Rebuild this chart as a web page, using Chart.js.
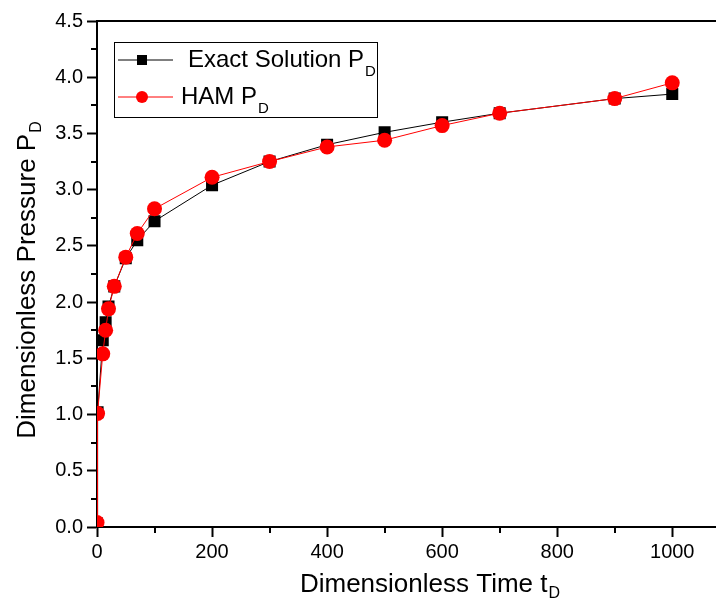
<!DOCTYPE html>
<html>
<head>
<meta charset="utf-8">
<script src="https://cdn.jsdelivr.net/npm/chart.js@4.4.1/dist/chart.umd.min.js"></script>
<style>
  html, body { margin: 0; padding: 0; background: #fff; }
  #wrap { width: 716px; height: 607px; overflow: hidden; position: relative; }
  canvas { display: block; }
</style>
</head>
<body>
<div id="wrap"><canvas id="chart" width="740" height="607"></canvas></div>
<script>
// dimensionless time
const tD = [0, 1, 10, 15, 20, 30, 50, 70, 100, 200, 300, 400, 500, 600, 700, 900, 1000];
// exact solution P_D
const exactPD = [0.03, 1.02, 1.66, 1.82, 1.96, 2.14, 2.39, 2.55, 2.72, 3.04, 3.25, 3.40, 3.51, 3.60, 3.68, 3.81, 3.85];
// HAM P_D
const hamPD = [0.04, 1.01, 1.54, 1.75, 1.94, 2.14, 2.40, 2.61, 2.83, 3.11, 3.25, 3.38, 3.44, 3.57, 3.68, 3.81, 3.95];

const seriesNames = ['Exact Solution P', 'HAM P'];
const subD = 'D';
const xTitle = 'Dimensionless Time t';
const yTitle = 'Dimensionless Pressure P';

const FONT = '"Liberation Sans", Arial, sans-serif';

const toXY = (xs, ys) => xs.map((x, i) => ({ x: x, y: ys[i] }));

// draw "main" + subscript at current origin, left aligned on baseline
function subText(ctx, main, sub, x, y, size, subSize, subDrop) {
    ctx.font = size + 'px ' + FONT;
    ctx.textAlign = 'left';
    ctx.textBaseline = 'alphabetic';
    ctx.fillText(main, x, y);
    const w = ctx.measureText(main).width;
    ctx.font = subSize + 'px ' + FONT;
    ctx.fillText(sub, x + w + 1, y + subDrop);
    return w + 1 + ctx.measureText(sub).width;
}

function textWidth(ctx, main, sub, size, subSize) {
    ctx.font = size + 'px ' + FONT;
    const w = ctx.measureText(main).width;
    ctx.font = subSize + 'px ' + FONT;
    return w + 1 + ctx.measureText(sub).width;
}

const decorPlugin = {
    id: 'decor',
    afterDraw(chart) {
        const ctx = chart.ctx;
        const area = chart.chartArea;
        const xs = chart.scales.x, ys = chart.scales.y;
        ctx.save();
        ctx.strokeStyle = '#000';
        ctx.fillStyle = '#000';

        // top frame
        ctx.lineWidth = 2;
        ctx.beginPath();
        ctx.moveTo(area.left - 1, area.top);
        ctx.lineTo(chart.width, area.top);
        ctx.stroke();

        // minor ticks
        ctx.lineWidth = 2;
        ctx.beginPath();
        for (let v = 100; v <= 1100; v += 200) {
            const px = Math.round(xs.getPixelForValue(v));
            if (px > chart.width) break;
            ctx.moveTo(px, area.bottom);
            ctx.lineTo(px, area.bottom + 6);
        }
        for (let v = 0.25; v < 4.5; v += 0.5) {
            const py = Math.round(ys.getPixelForValue(v));
            ctx.moveTo(area.left, py);
            ctx.lineTo(area.left - 6, py);
        }
        ctx.stroke();

        // axis titles
        const xw = textWidth(ctx, xTitle, subD, 26, 16);
        subText(ctx, xTitle, subD, 430 - xw / 2, 592, 26, 16, 6);

        ctx.save();
        ctx.translate(35, 280);
        ctx.rotate(-Math.PI / 2);
        const yw = textWidth(ctx, yTitle, subD, 26, 16);
        subText(ctx, yTitle, subD, -yw / 2, 0, 26, 16, 6);
        ctx.restore();

        // legend
        ctx.lineWidth = 1;
        ctx.strokeStyle = '#000';
        ctx.strokeRect(114.5, 42.5, 263, 75);
        const rows = [
            { ds: chart.data.datasets[0], y: 60, tx: 188 },
            { ds: chart.data.datasets[1], y: 97, tx: 181 }
        ];
        rows.forEach((r, i) => {
            ctx.strokeStyle = r.ds.borderColor;
            ctx.lineWidth = 1;
            ctx.beginPath();
            ctx.moveTo(118, r.y);
            ctx.lineTo(173, r.y);
            ctx.stroke();
            ctx.fillStyle = r.ds.pointBackgroundColor;
            if (r.ds.pointStyle === 'rect') {
                ctx.fillRect(142 - 5, r.y - 5, 10, 10);
            } else {
                ctx.beginPath();
                ctx.arc(142, r.y, 6, 0, Math.PI * 2);
                ctx.fill();
            }
            ctx.fillStyle = '#000';
            subText(ctx, seriesNames[i], subD, r.tx, r.y + 7, 24, 15, 9);
        });
        ctx.restore();
    }
};

const canvas = document.getElementById('chart');
const chart = new Chart(canvas, {
    type: 'line',
    data: {
        datasets: [
            {
                label: seriesNames[0],
                data: toXY(tD, exactPD),
                borderColor: '#000',
                borderWidth: 1,
                pointStyle: 'rect',
                pointRadius: 8.5,
                pointBackgroundColor: '#000',
                pointBorderWidth: 0,
                order: 1,
                clip: 0
            },
            {
                label: seriesNames[1],
                data: toXY(tD, hamPD),
                borderColor: '#ff0000',
                borderWidth: 1,
                pointStyle: 'circle',
                pointRadius: 7.5,
                pointBackgroundColor: '#ff0000',
                pointBorderWidth: 0,
                order: 0,
                clip: 0
            }
        ]
    },
    plugins: [decorPlugin],
    options: {
        responsive: false,
        animation: false,
        devicePixelRatio: 1,
        layout: { padding: { top: 21, left: 0, right: 0, bottom: 0 } },
        plugins: {
            legend: { display: false },
            tooltip: { enabled: false }
        },
        scales: {
            x: {
                type: 'linear',
                min: 0,
                max: 1103,
                afterFit: s => { s.height = 80; },
                ticks: {
                    stepSize: 200,
                    includeBounds: false,
                    maxRotation: 0,
                    color: '#000',
                    padding: 3,
                    font: { family: FONT, size: 20 },
                    callback: v => String(v)
                },
                grid: {
                    drawOnChartArea: false,
                    drawTicks: true,
                    tickLength: 10,
                    tickColor: '#000',
                    tickWidth: 2
                },
                border: { display: true, color: '#000', width: 2 }
            },
            y: {
                min: 0,
                max: 4.5,
                afterFit: s => { s.width = 97; },
                ticks: {
                    stepSize: 0.5,
                    color: '#000',
                    padding: 4,
                    font: { family: FONT, size: 20 },
                    callback: v => v.toFixed(1)
                },
                grid: {
                    drawOnChartArea: false,
                    drawTicks: true,
                    tickLength: 10,
                    tickColor: '#000',
                    tickWidth: 2
                },
                border: { display: true, color: '#000', width: 2 }
            }
        }
    }
});
</script>
</body>
</html>
